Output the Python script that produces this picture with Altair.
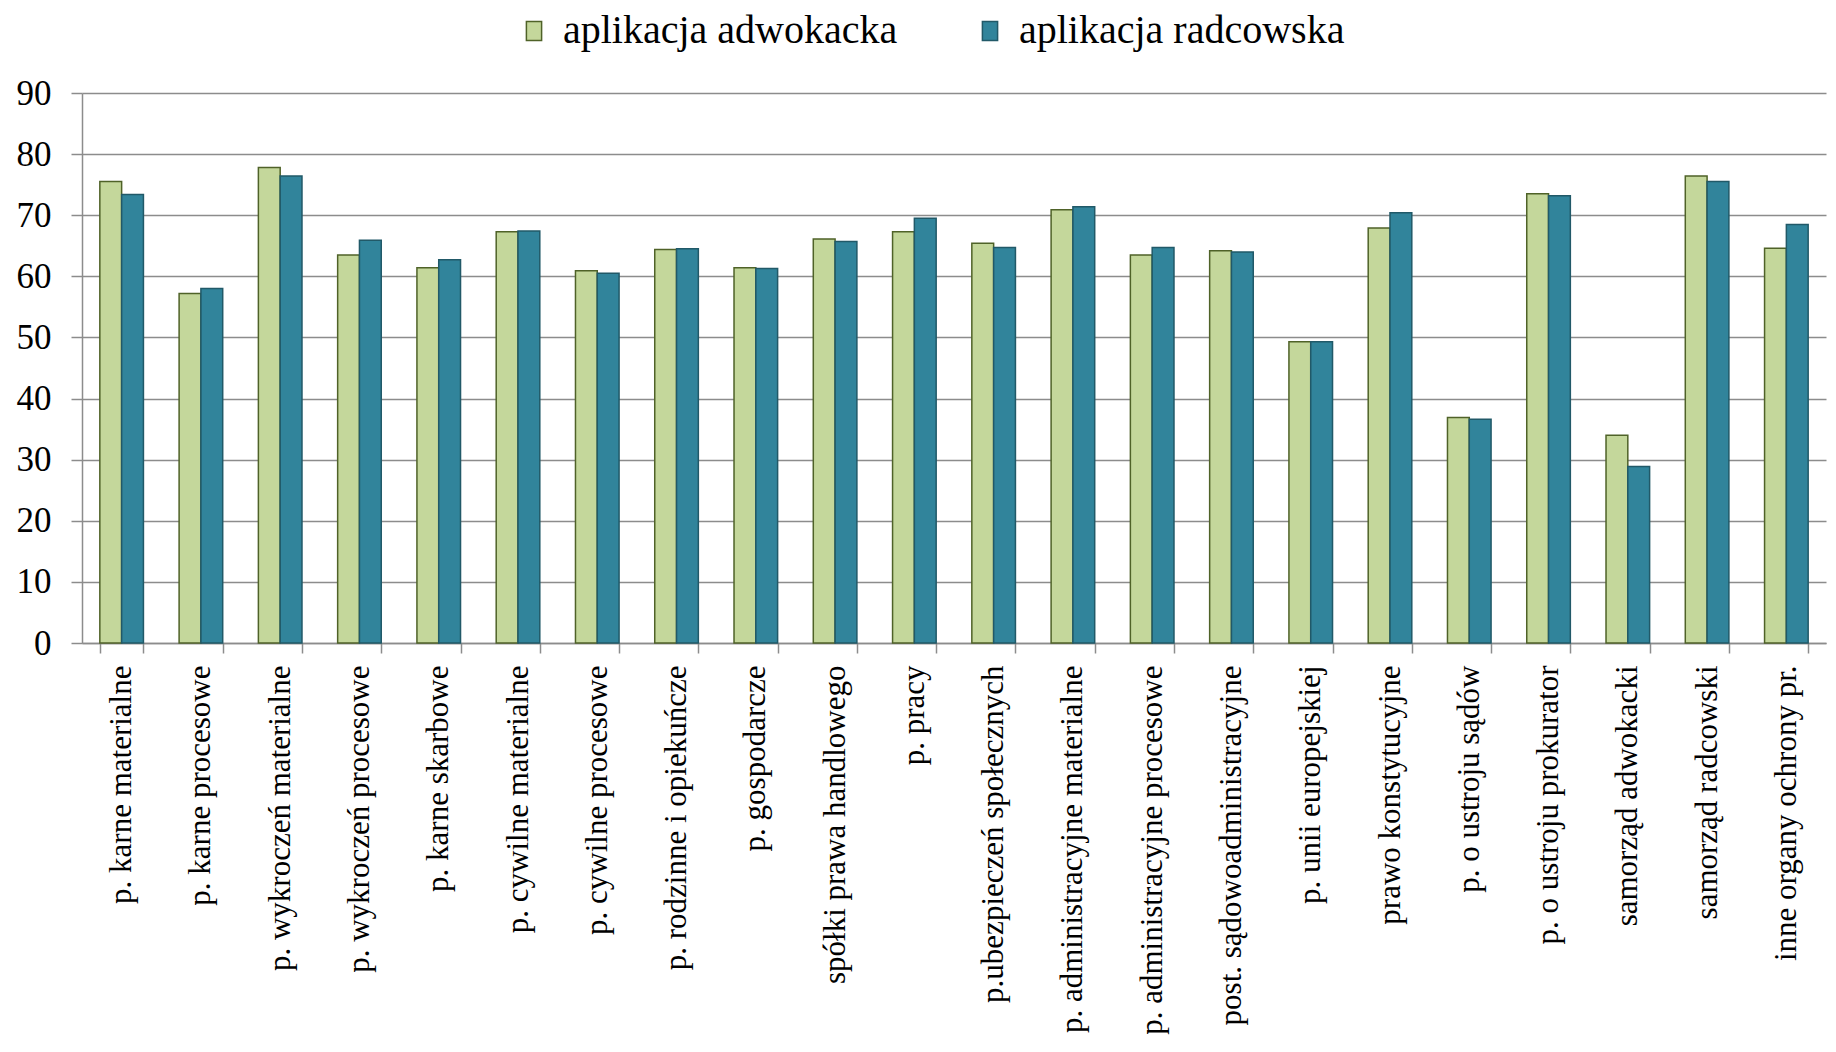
import altair as alt
import pandas as pd

categories = [
    "p. karne materialne",
    "p. karne procesowe",
    "p. wykroczeń materialne",
    "p. wykroczeń procesowe",
    "p. karne skarbowe",
    "p. cywilne materialne",
    "p. cywilne procesowe",
    "p. rodzinne i opiekuńcze",
    "p. gospodarcze",
    "spółki prawa handlowego",
    "p. pracy",
    "p.ubezpieczeń społecznych",
    "p. administracyjne materialne",
    "p. administracyjne procesowe",
    "post. sądowoadministracyjne",
    "p. unii europejskiej",
    "prawo konstytucyjne",
    "p. o ustroju sądów",
    "p. o ustroju prokurator",
    "samorząd adwokacki",
    "samorząd radcowski",
    "inne organy ochrony pr.",
]
adwokacka = [75.5, 57.2, 77.8, 63.5, 61.4, 67.3, 60.9, 64.4, 61.4, 66.1, 67.3,
             65.4, 70.9, 63.5, 64.2, 49.3, 67.9, 36.9, 73.5, 34.0, 76.4, 64.6]
radcowska = [73.4, 58.0, 76.4, 65.9, 62.7, 67.4, 60.5, 64.5, 61.3, 65.7, 69.5,
             64.7, 71.4, 64.7, 64.0, 49.3, 70.4, 36.6, 73.2, 28.9, 75.5, 68.5]
series = ["aplikacja adwokacka", "aplikacja radcowska"]
fills = ["#C4D79B", "#31849B"]
strokes = ["#4F6228", "#215968"]

rows = []
for c, a, r in zip(categories, adwokacka, radcowska):
    rows.append({"kategoria": c, "seria": series[0], "wartosc": a})
    rows.append({"kategoria": c, "seria": series[1], "wartosc": r})
df = pd.DataFrame(rows)

FONT = "Liberation Serif"

legend = alt.Legend(
    title=None,
    orient="none",
    legendX=432,
    legendY=-82,
    direction="horizontal",
)

chart = (
    alt.Chart(df)
    .mark_bar(strokeWidth=1.5)
    .encode(
        x=alt.X(
            "kategoria:N",
            sort=categories,
            title=None,
            scale=alt.Scale(paddingInner=0.45, paddingOuter=0.225),
            axis=alt.Axis(
                labelAngle=-90,
                labelFont=FONT,
                labelFontSize=31,
                labelColor="black",
                labelPadding=12,
                labelLimit=0,
                tickBand="extent",
                tickSize=10,
                tickColor="#8C8C8C",
                tickWidth=1.5,
                domainColor="#8C8C8C",
                domainWidth=1.5,
                grid=False,
            ),
        ),
        xOffset=alt.XOffset("seria:N", sort=series, scale=alt.Scale(paddingInner=0, paddingOuter=0)),
        y=alt.Y(
            "wartosc:Q",
            title=None,
            scale=alt.Scale(domain=[0, 90], nice=False),
            axis=alt.Axis(
                values=list(range(0, 100, 10)),
                labelFont=FONT,
                labelFontSize=35,
                labelColor="black",
                labelPadding=20,
                tickSize=11,
                tickColor="#8C8C8C",
                tickWidth=1.5,
                domainColor="#8C8C8C",
                domainWidth=1.5,
                gridColor="#8C8C8C",
                gridWidth=1.5,
            ),
        ),
        fill=alt.Fill(
            "seria:N",
            sort=series,
            scale=alt.Scale(domain=series, range=fills),
            legend=legend,
        ),
        stroke=alt.Stroke(
            "seria:N",
            sort=series,
            scale=alt.Scale(domain=series, range=strokes),
            legend=legend,
        ),
    )
    .properties(
        width=1744,
        height=550,
        autosize=alt.AutoSizeParams(type="none"),
        padding={"left": 74, "top": 85, "right": 2, "bottom": 400},
    )
    .configure_view(stroke=None)
    .configure_legend(
        labelFont=FONT,
        labelFontSize=40,
        labelColor="black",
        labelLimit=0,
        labelOffset=9,
        columnPadding=72,
        symbolType="M-0.8,-1H0.8V1H-0.8Z",
        symbolSize=361,
        symbolStrokeWidth=1.5,
        symbolOpacity=1,
    )
)

chart.save("out.html", embed_options={"renderer": "svg", "actions": False})
